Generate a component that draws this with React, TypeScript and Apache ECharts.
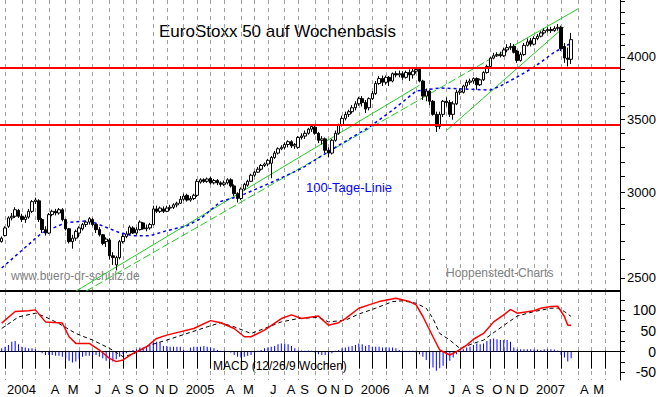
import React, { useEffect, useRef } from 'react';
import * as echarts from 'echarts';

// ---- axis / category definitions ----
const START_FRIDAY_UTC = [2003, 11, 26];
const WEEK_COUNT = 184;
const MONTH_LETTERS = ['J', 'F', 'M', 'A', 'M', 'J', 'J', 'A', 'S', 'O', 'N', 'D'];
const SHOWN_MONTHS = [0, 3, 4, 6, 7, 8, 9, 10, 11];
const priceTicks = [2500, 2600, 2700, 2800, 2900, 3000, 3100, 3200, 3300, 3400, 3500, 3600, 3700, 3800, 3900, 4000, 4100, 4200, 4300, 4400, 4500];
const priceLabels = [2500, 3000, 3500, 4000];
const PRICE_MIN = 2431;
const PRICE_MAX = 4515;
const macdTicks = [-50, -25, 0, 25, 50, 75, 100, 125];
const macdLabels = [-50, 0, 50, 100];
const MACD_MIN = -68.4;
const MACD_MAX = 146.6;

// ---- weekly candles [open, close, low, high] ----
const candles: number[][] = [
  [2700, 2720, 2695, 2730], [2735, 2780, 2730, 2790], [2790, 2840, 2780, 2850], [2840, 2850, 2825, 2870],
  [2850, 2890, 2840, 2905], [2885, 2850, 2840, 2895], [2850, 2830, 2815, 2865], [2830, 2845, 2810, 2860],
  [2845, 2880, 2835, 2895], [2880, 2940, 2870, 2950], [2940, 2950, 2925, 2965], [2945, 2830, 2815, 2955],
  [2830, 2770, 2750, 2840], [2770, 2750, 2735, 2790], [2750, 2860, 2745, 2870], [2860, 2880, 2850, 2890],
  [2880, 2870, 2855, 2895], [2870, 2890, 2860, 2900], [2890, 2830, 2820, 2900], [2830, 2775, 2765, 2835],
  [2775, 2700, 2690, 2780], [2700, 2720, 2660, 2740], [2720, 2760, 2705, 2770], [2750, 2780, 2725, 2790],
  [2775, 2800, 2765, 2810], [2800, 2815, 2785, 2825], [2815, 2835, 2800, 2845], [2830, 2800, 2790, 2840],
  [2800, 2770, 2750, 2805], [2770, 2740, 2730, 2785], [2740, 2690, 2680, 2745], [2700, 2715, 2670, 2725],
  [2710, 2620, 2600, 2720], [2620, 2610, 2570, 2640], [2570, 2610, 2540, 2620], [2610, 2700, 2600, 2710],
  [2700, 2730, 2690, 2745], [2730, 2745, 2720, 2760], [2745, 2785, 2740, 2795], [2780, 2750, 2745, 2790],
  [2750, 2770, 2740, 2785], [2770, 2815, 2765, 2825], [2810, 2775, 2770, 2815], [2775, 2780, 2760, 2800],
  [2780, 2800, 2770, 2810], [2800, 2895, 2795, 2915], [2895, 2880, 2870, 2915], [2880, 2900, 2870, 2910],
  [2895, 2880, 2870, 2910], [2880, 2900, 2875, 2915], [2900, 2905, 2885, 2920], [2905, 2920, 2895, 2930],
  [2920, 2930, 2905, 2940], [2930, 2955, 2925, 2975], [2955, 2975, 2945, 2990], [2980, 2950, 2940, 2990],
  [2950, 2960, 2940, 2975], [2960, 2980, 2950, 2990], [2980, 3070, 2970, 3085], [3065, 3080, 3055, 3090],
  [3080, 3070, 3060, 3090], [3070, 3085, 3060, 3095], [3090, 3060, 3050, 3100], [3060, 3075, 3050, 3085],
  [3075, 3060, 3045, 3085], [3060, 3050, 3035, 3070], [3050, 3060, 3040, 3075], [3060, 3080, 3050, 3090],
  [3080, 3040, 3030, 3090], [3040, 2990, 2975, 3050], [2990, 2960, 2935, 3000], [2960, 3020, 2950, 3030],
  [3020, 3050, 3010, 3060], [3045, 3070, 3035, 3080], [3070, 3110, 3065, 3120], [3110, 3130, 3100, 3140],
  [3130, 3150, 3125, 3165], [3150, 3175, 3140, 3185], [3175, 3185, 3165, 3195], [3185, 3210, 3170, 3220],
  [3190, 3230, 3090, 3240], [3230, 3260, 3220, 3275], [3260, 3290, 3250, 3300], [3290, 3300, 3280, 3315],
  [3300, 3320, 3285, 3335], [3320, 3340, 3300, 3350], [3340, 3310, 3295, 3350], [3310, 3320, 3290, 3330],
  [3300, 3370, 3290, 3380], [3370, 3380, 3355, 3400], [3380, 3400, 3360, 3420], [3400, 3430, 3390, 3440],
  [3430, 3450, 3410, 3465], [3445, 3400, 3390, 3455], [3400, 3350, 3330, 3410], [3350, 3360, 3320, 3380],
  [3360, 3280, 3260, 3370], [3280, 3260, 3230, 3300], [3260, 3350, 3250, 3360], [3350, 3400, 3340, 3420],
  [3400, 3460, 3390, 3470], [3460, 3510, 3450, 3530], [3510, 3540, 3495, 3560], [3540, 3560, 3520, 3575],
  [3560, 3590, 3545, 3610], [3590, 3620, 3570, 3640], [3620, 3660, 3605, 3675], [3660, 3630, 3600, 3680],
  [3630, 3580, 3550, 3650], [3590, 3660, 3570, 3670], [3660, 3700, 3650, 3720], [3700, 3780, 3690, 3800],
  [3780, 3820, 3770, 3840], [3820, 3790, 3760, 3845], [3790, 3830, 3770, 3845], [3830, 3800, 3760, 3840],
  [3800, 3860, 3790, 3870], [3860, 3850, 3830, 3880], [3850, 3860, 3830, 3885], [3860, 3830, 3810, 3880],
  [3830, 3870, 3820, 3885], [3870, 3850, 3800, 3895], [3850, 3880, 3820, 3900], [3880, 3895, 3860, 3910],
  [3895, 3800, 3790, 3905], [3800, 3680, 3650, 3810], [3680, 3720, 3640, 3740], [3720, 3640, 3610, 3730],
  [3640, 3540, 3530, 3650], [3540, 3450, 3410, 3560], [3450, 3540, 3430, 3560], [3540, 3640, 3520, 3650],
  [3640, 3630, 3600, 3670], [3630, 3540, 3520, 3650], [3540, 3620, 3500, 3640], [3620, 3710, 3610, 3730],
  [3710, 3720, 3690, 3740], [3710, 3760, 3700, 3770], [3760, 3790, 3740, 3810], [3790, 3800, 3770, 3820],
  [3800, 3820, 3780, 3830], [3820, 3770, 3730, 3830], [3770, 3810, 3760, 3820], [3810, 3870, 3800, 3880],
  [3870, 3920, 3860, 3935], [3920, 3990, 3910, 4000], [3990, 4010, 3980, 4035], [4010, 4020, 4000, 4040],
  [4020, 4010, 3995, 4045], [4010, 4060, 4000, 4080], [4060, 4080, 4040, 4110], [4080, 4090, 4060, 4120],
  [4090, 4040, 4030, 4110], [4050, 3970, 3950, 4060], [3970, 4020, 3960, 4040], [4020, 4100, 4010, 4120],
  [4100, 4130, 4090, 4160], [4140, 4110, 4090, 4165], [4110, 4160, 4100, 4180], [4160, 4180, 4145, 4200],
  [4180, 4210, 4170, 4225], [4210, 4230, 4195, 4250], [4230, 4240, 4215, 4260], [4240, 4230, 4210, 4265],
  [4230, 4250, 4220, 4270], [4250, 4260, 4230, 4290], [4260, 4070, 4050, 4275], [4090, 3990, 3950, 4120],
  [3990, 3980, 3920, 4080], [3980, 4150, 3940, 4210],
];

// ---- 100-Tage-Linie (read at sample weeks) ----
const maWeeks = [0, 12, 19, 26, 32, 35, 39, 44, 49, 55, 59, 65, 71, 80, 89, 99, 109, 116, 123, 130, 145, 148, 153, 158, 164, 169];
const maValues = [2553, 2752, 2811, 2823, 2776, 2752, 2734, 2734, 2764, 2793, 2835, 2941, 2978, 3062, 3155, 3300, 3444, 3572, 3720, 3744, 3728, 3760, 3833, 3915, 4040, 4120];

// ---- horizontal levels and trend lines ----
const levelValues = [3900, 3470];
const trendSolid1 = [[22, 2430], [124, 3766]];
const trendDashed = [[25, 2430], [145, 3982]];
const trendSolid2 = [[145, 3982], [171, 4430]];
const trendSolid3 = [[132, 3420], [167, 4265]];

// ---- MACD panel ----
const macdWeeks = [0, 4, 8, 10, 13, 18, 20, 22, 26, 29, 32, 34, 36, 39, 43, 46, 49, 52, 57, 62, 65, 69, 72, 74, 78, 83, 86, 89, 94, 97, 100, 102, 106, 109, 112, 117, 121, 123, 125, 128, 130, 133, 135, 138, 140, 143, 146, 149, 151, 153, 158, 160, 163, 165, 167, 168, 169];
const macdValues = [69, 97, 99, 101, 72, 69, 36, 20, 20, 4, -16, -24, -20, -4, 12, 32, 40, 46, 56, 75, 70, 56, 36, 36, 52, 80, 89, 80, 86, 64, 70, 80, 105, 113, 121, 129, 121, 113, 85, 36, 4, -8, 0, 16, 30, 44, 72, 89, 102, 93, 99, 105, 109, 110, 85, 64, 64];
const signalWeeks = [0, 5, 10, 13, 17, 22, 27, 32, 36, 39, 44, 49, 55, 61, 65, 69, 74, 78, 83, 88, 94, 97, 102, 106, 111, 116, 119, 123, 126, 128, 130, 133, 136, 140, 143, 147, 153, 158, 163, 165, 167, 169];
const signalValues = [56, 84, 93, 84, 68, 44, 28, 8, -12, -6, 16, 28, 44, 60, 70, 60, 44, 56, 72, 80, 83, 72, 76, 91, 105, 121, 123, 117, 105, 80, 44, 28, 8, 20, 28, 52, 86, 97, 105, 105, 97, 85];
const histogram = [
  8, 12, 16, 24, 26, 18, 12, 10, 8, 8, 6, 2, -4, -8, -8, -8, -10, -10, -12, -16,
  -22, -26, -24, -18, -12, -10, -10, -8, -8, -12, -16, -22, -26, -24, -18, -12, -6, -4, 2, 4,
  6, 10, 10, 10, 16, 22, 24, 22, 14, 14, 12, 12, 12, 12, 4, 2, 10, 12, 12, 12,
  14, 12, 10, 8, 4, 2, 2, 0, -2, -8, -12, -14, -12, -10, -8, -4, 2, 4, 8, 10,
  12, 14, 18, 20, 20, 18, 14, 8, 3, 3, 2, 3, 2, -2, -6, -8, -8, -6, -4, 2,
  4, 8, 10, 12, 14, 16, 20, 18, 14, 16, 12, 12, 12, 10, 10, 10, 10, 8, 4, 2,
  2, 2, 2, -2, -6, -12, -20, -28, -38, -46, -40, -34, -28, -22, -14, -6, 2, 6, 10, 12,
  16, 20, 18, 20, 26, 30, 32, 30, 28, 28, 28, 24, 10, 6, 6, 6, 6, 6, 5, 5,
  4, 6, 6, 6, 5, 3, -8, -14, -24, -16,
];

const FONT = '"Liberation Sans", Arial, sans-serif';

function textEl(text: string, x: number, y: number, size: number, color: string) {
  return {
    type: 'text',
    x,
    y,
    silent: true,
    style: {
      text,
      fill: color,
      font: `${size}px ${FONT}`,
      align: 'left',
      verticalAlign: 'middle',
      textAlign: 'left',
      textVerticalAlign: 'middle',
    },
  };
}

export default function App() {
  const ref = useRef<HTMLDivElement>(null);

  useEffect(() => {
    if (!ref.current) return;
    const chart = echarts.init(ref.current, null, { renderer: 'svg' });

    const start = Date.UTC(START_FRIDAY_UTC[0], START_FRIDAY_UTC[1], START_FRIDAY_UTC[2]);
    const cats: string[] = [];
    const monthStart: boolean[] = [];
    const labelText: string[] = [];
    let prevMonth = -1;
    for (let i = 0; i < WEEK_COUNT; i++) {
      const d = new Date(start + i * 7 * 86400000);
      const m = d.getUTCMonth();
      const isStart = i > 0 && m !== prevMonth;
      prevMonth = m;
      cats.push(d.toISOString().slice(0, 10));
      monthStart.push(isStart);
      let lab = '';
      if (isStart && SHOWN_MONTHS.indexOf(m) >= 0) {
        lab = m === 0 ? String(d.getUTCFullYear()) : MONTH_LETTERS[m];
      }
      labelText.push(lab);
    }
    const isMonth = (idx: number) => !!monthStart[idx];
    const ln = (v: number) => Math.log(v);

    const gridLine = {
      show: true,
      interval: isMonth,
      alignWithLabel: true,
      lineStyle: { color: '#a0a0a0', type: [4, 4], width: 1 },
    };

    const trendSeries = (pts: number[][], dashed: boolean) => ({
      type: 'line',
      xAxisIndex: 0,
      yAxisIndex: 0,
      data: pts.map(([w, v]) => [w, ln(v)]),
      symbol: 'none',
      silent: true,
      z: 1,
      lineStyle: { color: '#22cc22', width: 1, type: dashed ? [8, 3] : 'solid' },
    });

    const option: any = {
      animation: false,
      textStyle: { fontFamily: FONT },
      grid: [
        { left: 0, top: 0, width: 620, height: 291 },
        { left: 0, top: 291, width: 620, height: 89 },
      ],
      xAxis: [
        {
          type: 'category',
          gridIndex: 0,
          data: cats,
          boundaryGap: true,
          axisLine: { show: true, lineStyle: { color: '#000', width: 2 } },
          axisTick: { show: false },
          axisLabel: { show: false },
          splitLine: gridLine,
        },
        {
          type: 'category',
          gridIndex: 1,
          data: cats,
          boundaryGap: true,
          axisLine: { show: true, lineStyle: { color: '#000', width: 1 } },
          axisTick: {
            show: true,
            interval: isMonth,
            alignWithLabel: true,
            length: 17,
            lineStyle: { color: '#000', width: 1 },
          },
          axisLabel: {
            show: true,
            interval: (idx: number) => labelText[idx] !== '',
            formatter: (_v: string, idx: number) => labelText[idx],
            align: 'left',
            margin: 3,
            padding: [0, 0, 0, 2],
            fontSize: 13,
            color: '#000',
            fontFamily: FONT,
          },
          splitLine: gridLine,
        },
      ],
      yAxis: [
        {
          type: 'value',
          gridIndex: 0,
          position: 'right',
          min: ln(PRICE_MIN),
          max: ln(PRICE_MAX),
          axisLine: { show: true, lineStyle: { color: '#000', width: 1 } },
          axisTick: {
            show: true,
            length: 5,
            customValues: priceTicks.map(ln),
            lineStyle: { color: '#000' },
          },
          axisLabel: {
            show: true,
            customValues: priceLabels.map(ln),
            formatter: (v: number) => String(Math.round(Math.exp(v))),
            align: 'right',
            margin: 36,
            fontSize: 13,
            color: '#000',
            fontFamily: FONT,
          },
          splitLine: { show: false },
        },
        {
          type: 'value',
          gridIndex: 1,
          position: 'right',
          min: MACD_MIN,
          max: MACD_MAX,
          axisLine: { show: true, lineStyle: { color: '#000', width: 1 } },
          axisTick: {
            show: true,
            length: 5,
            customValues: macdTicks,
            lineStyle: { color: '#000' },
          },
          axisLabel: {
            show: true,
            customValues: macdLabels,
            align: 'right',
            margin: 36,
            fontSize: 14,
            color: '#000',
            fontFamily: FONT,
          },
          splitLine: { show: false },
        },
      ],
      series: [
        trendSeries(trendSolid1, false),
        trendSeries(trendDashed, true),
        trendSeries(trendSolid2, false),
        trendSeries(trendSolid3, false),
        {
          type: 'line',
          xAxisIndex: 0,
          yAxisIndex: 0,
          data: maWeeks.map((w, k) => [w, ln(maValues[k])]),
          symbol: 'none',
          silent: true,
          z: 2,
          lineStyle: { color: '#0000ff', width: 1.5, type: [3, 3] },
        },
        {
          type: 'candlestick',
          xAxisIndex: 0,
          yAxisIndex: 0,
          barWidth: 3,
          z: 3,
          data: candles.map(([o, c, l, h]) => [ln(o), ln(c), ln(l), ln(h)]),
          itemStyle: {
            color: '#ffffff',
            color0: '#000000',
            borderColor: '#000000',
            borderColor0: '#000000',
            borderWidth: 1,
          },
          markLine: {
            silent: true,
            symbol: ['none', 'none'],
            label: { show: false },
            lineStyle: { color: '#ff0000', width: 2, type: 'solid' },
            data: levelValues.map((v) => ({ yAxis: ln(v) })),
          },
        },
        {
          type: 'bar',
          xAxisIndex: 1,
          yAxisIndex: 1,
          data: histogram,
          barWidth: 1,
          silent: true,
          itemStyle: { color: '#0000ff' },
        },
        {
          type: 'line',
          xAxisIndex: 1,
          yAxisIndex: 1,
          data: signalWeeks.map((w, k) => [w, signalValues[k]]),
          symbol: 'none',
          silent: true,
          lineStyle: { color: '#000', width: 1, type: [4, 3] },
        },
        {
          type: 'line',
          xAxisIndex: 1,
          yAxisIndex: 1,
          data: macdWeeks.map((w, k) => [w, macdValues[k]]),
          symbol: 'none',
          silent: true,
          lineStyle: { color: '#ff0000', width: 1.5 },
        },
      ],
      graphic: [
        textEl('EuroStoxx 50 auf Wochenbasis', 159, 31, 17, '#000000'),
        textEl('100-Tage-Linie', 306, 187, 13, '#0000ff'),
        textEl('www.buero-dr-schulz.de', 11, 276, 12, '#808080'),
        textEl('Hoppenstedt-Charts', 446, 273, 12, '#808080'),
        textEl('MACD (12/26/9 Wochen)', 213, 366, 12, '#000000'),
      ],
    };

    chart.setOption(option);
    return () => {
      chart.dispose();
    };
  }, []);

  return (
    <div
      ref={ref}
      style={{ position: 'fixed', left: 0, top: 0, width: 660, height: 397, background: '#fff' }}
    />
  );
}
